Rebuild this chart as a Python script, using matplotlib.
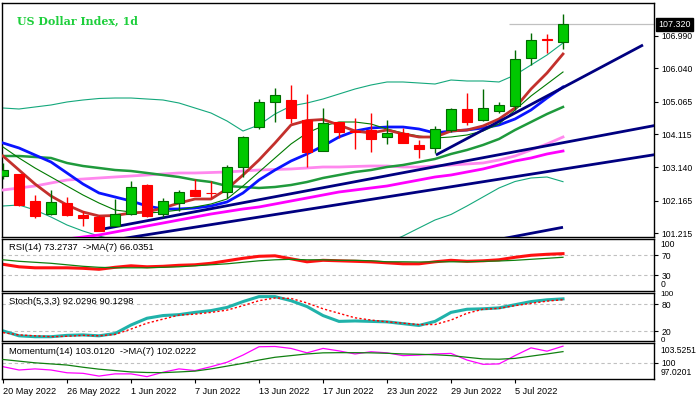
import matplotlib
matplotlib.use('Agg')
import matplotlib.pyplot as plt
import matplotlib.transforms as mtransforms

# ---------------- data ----------------
date_labels = ['20 May 2022', '26 May 2022', '1 Jun 2022', '7 Jun 2022', '13 Jun 2022',
               '17 Jun 2022', '23 Jun 2022', '29 Jun 2022', '5 Jul 2022']
date_bars = [0, 4, 8, 12, 16, 20, 24, 28, 32]

opens = [102.889, 102.939, 102.159, 101.770, 102.092, 101.750, 101.700, 101.437, 101.779, 102.617,
         101.770, 102.092, 102.480, 102.407, 102.430, 103.161, 104.312, 105.042, 105.109, 104.525,
         103.628, 104.458, 104.218, 104.233, 104.037, 104.136, 103.795, 103.698, 104.233, 104.837,
         104.525, 104.788, 104.934, 106.327, 106.905, 106.794]
highs = [103.278, 102.948, 102.334, 102.480, 102.267, 101.876, 101.750, 102.208, 102.743, 102.655,
         102.238, 102.480, 102.810, 102.743, 103.210, 104.066, 105.138, 105.451, 105.547, 105.284,
         104.867, 104.475, 104.583, 104.720, 104.525, 104.282, 103.941, 104.350, 104.867, 105.322,
         105.430, 105.059, 106.570, 107.075, 107.037, 107.621]
lows = [102.801, 102.013, 101.653, 101.764, 101.735, 101.429, 101.282, 101.429, 101.764, 101.706,
        101.683, 101.867, 102.296, 102.238, 102.238, 102.869, 104.253, 104.458, 104.428, 103.161,
        103.619, 103.990, 103.692, 103.599, 103.824, 103.853, 103.406, 103.552, 104.183, 104.379,
        104.510, 104.720, 104.817, 106.131, 106.491, 106.599]
closes = [103.064, 102.042, 101.729, 102.121, 101.750, 101.653, 101.291, 101.770, 102.559, 101.729,
          102.168, 102.413, 102.314, 102.396, 103.143, 104.019, 105.042, 105.255, 104.592, 103.599,
          104.428, 104.183, 104.160, 103.961, 104.154, 103.862, 103.669, 104.253, 104.837, 104.475,
          104.867, 104.954, 106.298, 106.862, 106.876, 107.320]
last_price = 107.320
last_price_line_start = 31.6

ma_red = [103.473, 103.064, 102.655, 102.305, 102.042, 101.838, 101.721, 101.735, 101.808, 101.838,
          101.954, 102.100, 102.217, 102.217, 102.509, 102.918, 103.356, 103.853, 104.379, 104.510,
          104.539, 104.379, 104.203, 104.145, 104.233, 104.116, 104.028, 104.028, 104.203, 104.233,
          104.350, 104.554, 104.875, 105.430, 105.898, 106.453]
ma_thin_green = [103.736, 103.415, 103.123, 102.860, 102.597, 102.334, 102.100, 101.896, 101.838, 101.808,
                 101.838, 101.896, 101.984, 102.071, 102.217, 102.597, 103.006, 103.415, 103.824, 104.145,
                 104.350, 104.466, 104.466, 104.408, 104.262, 104.145, 104.057, 103.999, 104.028, 104.087,
                 104.203, 104.408, 104.817, 105.226, 105.576, 105.927]
ma_blue = [103.853, 103.707, 103.502, 103.298, 102.977, 102.655, 102.393, 102.276, 102.159, 102.013,
           101.925, 101.925, 101.954, 102.013, 102.130, 102.393, 102.772, 103.064, 103.327, 103.532,
           103.765, 104.028, 104.203, 104.291, 104.320, 104.320, 104.262, 104.145, 104.203, 104.233,
           104.291, 104.379, 104.554, 104.817, 105.167, 105.489]
ma_green = [103.473, 103.473, 103.444, 103.415, 103.269, 103.181, 103.123, 103.064, 103.035, 102.977,
            102.918, 102.860, 102.772, 102.714, 102.597, 102.568, 102.539, 102.568, 102.626, 102.714,
            102.831, 102.918, 103.006, 103.064, 103.152, 103.210, 103.298, 103.386, 103.532, 103.649,
            103.795, 103.970, 104.233, 104.466, 104.700, 104.905]
bb_upper = [104.875, 104.846, 104.905, 104.963, 105.051, 105.109, 105.153, 105.167, 105.167, 105.138,
            105.109, 105.021, 104.875, 104.729, 104.496, 104.203, 104.379, 104.700, 104.934, 105.021,
            105.138, 105.284, 105.430, 105.547, 105.635, 105.635, 105.606, 105.576, 105.693, 105.664,
            105.664, 105.635, 105.839, 106.131, 106.423, 106.774]
bb_lower = [102.013, 102.042, 101.896, 101.691, 101.458, 101.282, 101.136, 101.020, 100.903, 100.786,
            100.727, 100.698, 100.698, 100.727, 100.757, 100.844, 100.786, 100.669, 100.611, 100.552,
            100.523, 100.552, 100.640, 100.757, 100.932, 101.136, 101.370, 101.604, 101.765, 102.013,
            102.276, 102.539, 102.728, 102.831, 102.860, 102.723]
ma_pink = [102.480, 102.539, 102.597, 102.685, 102.772, 102.801, 102.831, 102.860, 102.889, 102.918,
           102.948, 102.977, 102.977, 102.991, 103.006, 103.035, 103.064, 103.079, 103.094, 103.123,
           103.152, 103.152, 103.167, 103.181, 103.181, 103.152, 103.152, 103.181, 103.210, 103.240,
           103.269, 103.356, 103.473, 103.649, 103.824, 104.028]
ma_magenta = [100.873, 100.932, 100.990, 101.020, 101.049, 101.107, 101.166, 101.253, 101.341, 101.429,
              101.516, 101.604, 101.691, 101.779, 101.852, 101.925, 101.984, 102.071, 102.159, 102.246,
              102.334, 102.422, 102.480, 102.539, 102.597, 102.685, 102.772, 102.860, 102.918, 103.006,
              103.094, 103.210, 103.327, 103.415, 103.532, 103.619]

# trend lines: (bar, price) anchor pairs
trend_a_x = [6.25, 41.9]
trend_a_y = [101.341, 104.466]
trend_b_x = [0.0, 40.7]
trend_b_y = [100.51, 103.51]
trend_c_x = [27.06, 40.0]
trend_c_y = [103.502, 106.716]
trend_d_x = [30.0, 35.0]
trend_d_y = [100.95, 101.391]

price_ticks = [106.990, 106.040, 105.065, 104.115, 103.140, 102.165, 101.215]

rsi = [52, 47, 45, 45, 45, 44, 42, 46, 49, 47, 48, 50, 51, 54, 59, 64, 68, 69, 63, 57,
       60, 59, 58, 57, 55, 53, 53, 57, 60, 58, 59, 61, 66, 70, 72, 73.2737]
rsi_ma = [61, 58, 56, 54, 51, 48, 46, 45, 45, 45, 46, 47, 49, 51, 53, 56, 59, 61, 62, 61,
          61, 60, 60, 59, 57, 57, 56.6, 57, 57, 57, 58, 58.6, 60, 62, 64, 66.0351]

stoch_k = [21, 10, 8, 8, 11, 12, 10, 15, 34, 49, 55, 57, 62, 66, 73, 86, 97, 97, 88, 75,
           55, 42, 43, 42, 41, 37, 33, 42, 62, 69, 70, 72, 79, 86, 90, 92.0296]
stoch_d = [17, 12, 10, 8, 9, 11, 10, 13, 25, 38, 47, 56, 58, 62, 67, 77, 88, 94, 93, 83,
           70, 60, 50, 45, 41, 38, 35, 35, 45, 60, 69, 71, 77, 82, 87, 90.1298]

momentum = [99.3, 98.7, 98.9, 98.7, 98.2, 98.1, 97.6, 98.0, 98.0, 97.5, 98.3, 98.9, 98.6, 99.3,
            100.1, 101.4, 102.9, 102.95, 102.6, 101.8, 102.6, 102.15, 101.6, 102.0, 101.8, 101.3,
            101.4, 101.6, 101.7, 100.5, 99.73, 99.8, 101.3, 102.7, 102.1, 103.012]
momentum_ma = [100.6, 100.3, 100.0, 99.8, 99.6, 99.2, 98.85, 98.6, 98.35, 98.25, 98.22, 98.35,
               98.5, 98.9, 99.4, 99.9, 100.5, 101.0, 101.3, 101.6, 101.8, 101.83, 101.83, 101.8,
               101.72, 101.6, 101.54, 101.45, 101.3, 101.0, 100.7, 100.65, 100.8, 101.2, 101.6, 102.0222]
mom_min, mom_max = 97.0201, 103.5251

# ---------------- figure ----------------
W, H = 698, 398
fig = plt.figure(figsize=(W / 100, H / 100), dpi=100)
fig.patch.set_facecolor('white')
LF = 'Liberation Sans'


def axes_px(x0, y0, x1, y1):
    return fig.add_axes([x0 / W, 1 - y1 / H, (x1 - x0) / W, (y1 - y0) / H])


X0, X1 = 2.3, 654.3
xlim = ((X0 - 3) / 16, (X1 - 3) / 16)
xs = list(range(len(opens)))


def style(ax):
    ax.set_facecolor('white')
    for s in ax.spines.values():
        s.set_color('black')
        s.set_linewidth(1.0)
    ax.set_xlim(*xlim)
    ax.yaxis.tick_right()
    ax.tick_params(axis='y', direction='out', length=3, width=0.8, pad=2,
                   labelsize=6.2, colors='black')
    ax.tick_params(axis='x', bottom=False, labelbottom=False)


# ---- main panel ----
ax = axes_px(X0, 2.7, X1, 236.7)
style(ax)
ax.set_ylim(101.116, 107.951)

bb_col = '#14a87c'
ax.plot(xs, bb_upper, color=bb_col, lw=0.8, zorder=2)
ax.plot(xs, bb_lower, color=bb_col, lw=0.8, zorder=2)
ax.plot(xs, ma_magenta, color='#ff00ff', lw=2.0, zorder=3)
ax.plot(xs, ma_pink, color='#ff88ee', lw=2.0, zorder=3)
ax.plot(xs, ma_green, color='#1f9a3c', lw=1.8, zorder=3)
ax.plot(xs, ma_blue, color='#0a14ff', lw=2.0, zorder=3)
ax.plot(xs, ma_thin_green, color='#007a00', lw=0.8, zorder=3)
ax.plot(xs, ma_red, color='#c3302c', lw=2.0, zorder=3)
for tx, ty in [(trend_a_x, trend_a_y), (trend_b_x, trend_b_y),
               (trend_c_x, trend_c_y), (trend_d_x, trend_d_y)]:
    ax.plot(tx, ty, color='#000080', lw=2.0, zorder=3, solid_capstyle='butt')

ax.hlines(last_price, last_price_line_start, xlim[1], color='#c0c0c0', lw=0.9, zorder=1)

for i, (o, h, l, c) in enumerate(zip(opens, highs, lows, closes)):
    up = c >= o
    body = '#00c800' if up else '#ff0000'
    edge = '#006a00' if up else '#ff0000'
    ax.vlines(i, l, h, color=edge, lw=1.0, zorder=4)
    ax.bar(i, c - o, bottom=o, width=0.66, color=body, edgecolor=edge, lw=0.8, zorder=5)

ax.set_yticks(price_ticks)
ax.set_yticklabels([f'{v:.3f}' for v in price_ticks], fontfamily=LF)

tr = mtransforms.blended_transform_factory(ax.transAxes, ax.transData)
ax.text(1.0055, last_price, f'{last_price:.3f}', transform=tr, ha='left', va='center',
        fontsize=6.4, fontfamily=LF, color='white', zorder=10,
        bbox=dict(boxstyle='square,pad=0.25', fc='black', ec='black'))

ax.text((17.3 - X0) / (X1 - X0), 1 - (24.2 - 2.7) / 234, 'US Dollar Index, 1d', transform=ax.transAxes,
        ha='left', va='baseline', fontsize=7.9, fontweight='bold', fontfamily='DejaVu Serif',
        color='#1ecf3c')

# ---- RSI panel ----
ar = axes_px(X0, 238.7, X1, 291)
style(ar)
ar.set_ylim(-1.4, 103.2)
for lv in (70, 30):
    ar.axhline(lv, color='#c0c0c0', lw=0.8, ls=(0, (3, 2.5)), zorder=1)
ar.plot(xs, rsi_ma, color='#108010', lw=0.9, zorder=3)
ar.plot(xs, rsi, color='#ff1010', lw=2.2, zorder=2)
ar.set_yticks([70, 30])
ar.set_yticklabels(['70', '30'], fontfamily=LF)
ar.text(1.01, 0.88, '100', transform=ar.transAxes, ha='left', va='center', fontsize=6.2, fontfamily=LF)
ar.text(1.01, 0.12, '0', transform=ar.transAxes, ha='left', va='center', fontsize=6.2, fontfamily=LF)
ar.text(7 / 652, 0.83, f'RSI(14) {rsi[-1]:.4f}  ->MA(7) {rsi_ma[-1]:.4f}', transform=ar.transAxes,
        ha='left', va='center', fontsize=6.75, fontfamily=LF, color='black')

# ---- Stochastic panel ----
asx = axes_px(X0, 293.3, X1, 341.3)
style(asx)
asx.set_ylim(-2.2, 104.4)
for lv in (80, 20):
    asx.axhline(lv, color='#c0c0c0', lw=0.8, ls=(0, (3, 2.5)), zorder=1)
asx.plot(xs, stoch_d, color='#ff0000', lw=1.0, ls=(0, (1.6, 1.6)), zorder=3)
asx.plot(xs, stoch_k, color='#20b2aa', lw=2.2, zorder=2)
asx.set_yticks([80, 20])
asx.set_yticklabels(['80', '20'], fontfamily=LF)
asx.text(1.01, 0.985, '100', transform=asx.transAxes, ha='left', va='center', fontsize=5.8, fontfamily=LF)
asx.text(1.01, 0.02, '0', transform=asx.transAxes, ha='left', va='center', fontsize=5.8, fontfamily=LF)
asx.text(7 / 652, 0.83, f'Stoch(5,3,3) {stoch_k[-1]:.4f} {stoch_d[-1]:.4f}', transform=asx.transAxes,
         ha='left', va='center', fontsize=6.75, fontfamily=LF, color='black')

# ---- Momentum panel ----
am = axes_px(X0, 343.3, X1, 379.3)
style(am)
am.set_ylim(mom_min, mom_max)
am.axhline(100, color='#c0c0c0', lw=0.8, ls=(0, (3, 2.5)), zorder=1)
am.plot(xs, momentum_ma, color='#108010', lw=0.9, zorder=3)
am.plot(xs, momentum, color='#ff00ff', lw=0.9, zorder=2)
am.set_yticks([100])
am.set_yticklabels(['100'], fontfamily=LF)
am.text(1.01, 0.80, f'{mom_max:.4f}', transform=am.transAxes, ha='left', va='center', fontsize=6.2, fontfamily=LF)
am.text(1.01, 0.20, f'{mom_min:.4f}', transform=am.transAxes, ha='left', va='center', fontsize=6.2, fontfamily=LF)
am.text(7 / 652, 0.78, f'Momentum(14) {momentum[-1]:.4f}  ->MA(7) {momentum_ma[-1]:.4f}',
        transform=am.transAxes, ha='left', va='center', fontsize=6.75, fontfamily=LF, color='black')

am.tick_params(axis='x', bottom=True, labelbottom=True, direction='out', length=3, width=0.8,
               pad=2.5, labelsize=6.6)
am.set_xticks(date_bars)
am.set_xticklabels(date_labels, fontfamily=LF)
for lab in am.get_xticklabels():
    lab.set_horizontalalignment('left')

fig.savefig('out.png', dpi=100, facecolor='white')
